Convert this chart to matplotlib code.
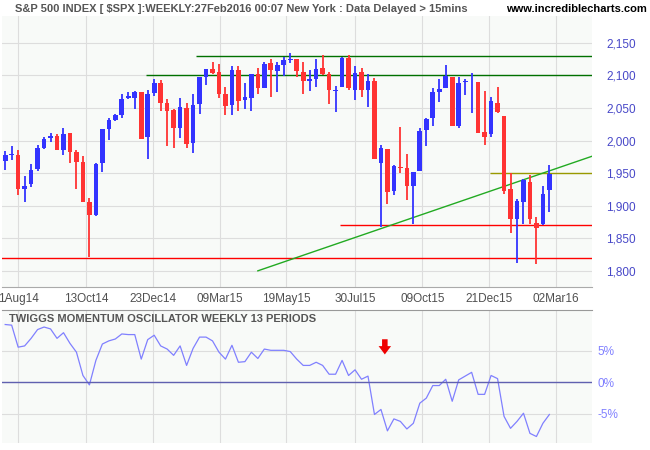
import matplotlib
matplotlib.use("Agg")
import matplotlib.pyplot as plt
import numpy as np

plt.rcParams['font.family'] = ['Liberation Sans', 'DejaVu Sans']

# weekly OHLC, Jul 2014 - Feb 2016
opens = [1969, 1978, 1978, 1926, 1933, 1956, 1989, 2004, 2007, 1986, 2011, 1983, 1967, 1906, 1885, 1965,
         2018, 2032, 2040, 2065, 2066, 2074, 2005, 2073, 2088, 2058, 2047, 2020, 2050, 1996, 2056, 2097,
         2110, 2105, 2072, 2055, 2108, 2062, 2066, 2102, 2081, 2119, 2107, 2116, 2124, 2125, 2106, 2092,
         2095, 2111, 2102, 2076, 2082, 2127, 2078, 2105, 2078, 2091, 1966, 1987, 1923, 1960, 1958, 1931,
         1954, 2017, 2034, 2075, 2081, 2098, 2023, 2090, 2091, 2090, 2013, 2010, 2058, 2038, 1926, 1880,
         1906, 1937, 1873, 1872, 1924]
highs = [1984, 1992, 1985, 1945, 1964, 1993, 2006, 2011, 2010, 2019, 2011, 1985, 1977, 1912, 1965, 2018,
         2034, 2041, 2071, 2075, 2076, 2075, 2077, 2094, 2093, 2064, 2049, 2065, 2057, 2072, 2097, 2110,
         2120, 2117, 2082, 2114, 2115, 2088, 2103, 2112, 2120, 2126, 2120, 2129, 2135, 2126, 2121, 2108,
         2126, 2131, 2105, 2084, 2128, 2132, 2114, 2112, 2103, 2096, 1993, 1987, 1962, 2021, 1980, 1952,
         2020, 2034, 2080, 2094, 2116, 2098, 2097, 2094, 2104, 2090, 2076, 2067, 2082, 2038, 1950, 1910,
         1941, 1947, 1882, 1931, 1963]
lows = [1955, 1970, 1916, 1905, 1929, 1954, 1987, 1998, 1985, 1978, 1965, 1926, 1906, 1821, 1884, 1951,
        2001, 2030, 2035, 2064, 2049, 2002, 1972, 2069, 2046, 1992, 1988, 2004, 1989, 1981, 2041, 2085,
        2103, 2066, 2040, 2039, 2045, 2048, 2045, 2072, 2081, 2067, 2074, 2099, 2119, 2098, 2072, 2076,
        2083, 2100, 2056, 2044, 2082, 2077, 2063, 2067, 2052, 1971, 1867, 1903, 1917, 1950, 1909, 1872,
        1954, 1991, 2022, 2059, 2081, 2022, 2019, 2070, 2042, 2012, 1993, 2005, 2043, 1918, 1858, 1812,
        1872, 1872, 1810, 1871, 1891]
closes = [1978, 1978, 1925, 1931, 1955, 1988, 2003, 2007, 1985, 2010, 1982, 1967, 1906, 1886, 1964, 2018,
          2032, 2039, 2064, 2068, 2075, 2002, 2071, 2089, 2058, 2045, 2019, 2051, 1995, 2055, 2097, 2110,
          2104, 2071, 2053, 2108, 2061, 2067, 2102, 2081, 2117, 2108, 2116, 2123, 2126, 2107, 2092, 2094,
          2110, 2102, 2077, 2077, 2127, 2080, 2104, 2078, 2092, 1971, 1989, 1921, 1961, 1958, 1931, 1951,
          2015, 2033, 2075, 2079, 2099, 2023, 2089, 2090, 2092, 2012, 2005, 2061, 2044, 1922, 1880, 1907,
          1940, 1880, 1865, 1918, 1948]

# Twiggs momentum oscillator (%)
momentum = [9.2, 9.1, 5.6, 5.8, 7.0, 8.4, 8.8, 8.5, 7.0, 7.9, 6.2, 4.8, 1.1, -0.4, 3.5, 6.1, 6.6, 6.9,
            7.7, 7.6, 7.6, 3.7, 6.8, 7.5, 5.8, 5.3, 4.3, 5.8, 2.7, 5.4, 7.2, 7.2, 6.6, 4.8, 3.7, 5.9,
            3.2, 3.3, 4.8, 3.8, 5.3, 5.1, 5.1, 5.1, 4.9, 3.7, 2.7, 2.7, 3.2, 2.7, 1.3, 1.3, 3.5, 1.1,
            2.0, 0.5, 1.0, -5.1, -4.3, -7.7, -5.8, -6.2, -7.4, -6.5, -3.3, -2.5, -0.5, -0.5, 0.5, -3.0,
            0.4, 1.0, 1.6, -1.9, -1.9, 1.1, 0.6, -5.4, -7.3, -6.2, -4.9, -8.1, -8.6, -6.5, -5.1]

tick_pos = [2, 12.5, 22.8, 33.2, 43.4, 54, 64.4, 74.7, 85]
tick_labels = ["1Aug14", "13Oct14", "23Dec14", "09Mar15", "19May15", "30Jul15", "09Oct15", "21Dec15", "02Mar16"]
price_ticks = [1800, 1850, 1900, 1950, 2000, 2050, 2100, 2150]
mom_ticks = [5, 0, -5]

BG = "#f8faf8"
RED = "#ff3333"
BLUE = "#3333ff"

fig = plt.figure(figsize=(6.5, 4.5), dpi=100, facecolor="white")
ax = fig.add_axes([0.003, 0.362, 0.908, 0.602], facecolor=BG)
ax2 = fig.add_axes([0.003, 0.016, 0.908, 0.295], facecolor=BG)

x = np.arange(len(closes))
for i in x:
    o, h, l, c = opens[i], highs[i], lows[i], closes[i]
    col = BLUE if c >= o else RED
    ax.vlines(i, l, h, color=col, lw=1.3, zorder=3)
    lo, hi = min(o, c), max(o, c)
    ax.bar(i, max(hi - lo, 1.2), bottom=lo, width=0.72, color=col, zorder=3)

# support / resistance lines
ax.hlines(2130, 29.5, 91, color="#007000", lw=1)
ax.hlines(2100, 21.8, 91, color="#007000", lw=1)
ax.hlines(1820, -1, 91, color="#ff0000", lw=1)
ax.hlines(1870, 51.7, 91, color="#ff0000", lw=1)
ax.hlines(1950, 74.8, 91, color="#999900", lw=1)
ax.plot([39, 90.6], [1800, 1976], color="#22aa22", lw=1)

ax.set_xlim(-0.5, 90.6)
ax.set_ylim(1775, 2191)
ax.set_xticks(tick_pos)
ax.set_xticklabels(tick_labels)
ax.set_yticks(price_ticks)
ax.set_yticklabels([f"{v:,}" for v in price_ticks])
ax.yaxis.tick_right()
ax.tick_params(axis="y", length=0, pad=10, labelsize=8.5, labelcolor="#4848c8")
ax.tick_params(axis="x", length=0, pad=4, labelsize=8.5, labelcolor="#505050")
ax.grid(True, color="#dddddd", lw=0.8)
for s in ax.spines.values():
    s.set_visible(False)
ax.spines["bottom"].set_visible(True)
ax.spines["bottom"].set_color("#aaaaaa")

# oscillator
ax2.plot(x, momentum, color="#8080ff", lw=0.9)
ax2.axhline(0, color="#6060b0", lw=1)
ax2.annotate("", xy=(58.6, 4.0), xytext=(58.6, 7.3),
             arrowprops=dict(arrowstyle="simple,head_width=0.9,head_length=0.6,tail_width=0.4",
                             color="#ee0000", lw=0))
ax2.set_xlim(-0.5, 90.6)
ax2.set_ylim(-9.6, 11.5)
ax2.set_xticks(tick_pos)
ax2.set_xticklabels([])
ax2.set_yticks(mom_ticks)
ax2.set_yticklabels([f"{v}%" for v in mom_ticks])
ax2.yaxis.tick_right()
ax2.tick_params(axis="y", length=0, pad=4, labelsize=8.5, labelcolor="#8080ff")
ax2.tick_params(axis="x", length=0)
ax2.grid(True, color="#dddddd", lw=0.8)
for s in ax2.spines.values():
    s.set_visible(False)
ax2.spines["top"].set_visible(True)
ax2.spines["top"].set_color("#999999")
ax2.text(0.012, 0.97, "TWIGGS MOMENTUM OSCILLATOR WEEKLY 13 PERIODS", transform=ax2.transAxes,
         fontsize=8, fontweight="bold", color="#555555", va="top")

fig.text(0.023, 0.992, "S&P 500 INDEX [ $SPX ]:WEEKLY:27Feb2016 00:07 New York : Data Delayed > 15mins",
         fontsize=8, fontweight="bold", color="#555555", va="top")
fig.text(0.995, 0.992, "www.incrediblecharts.com", fontsize=8, fontweight="bold",
         color="black", va="top", ha="right")

fig.savefig("out.png", dpi=100, facecolor="white")
